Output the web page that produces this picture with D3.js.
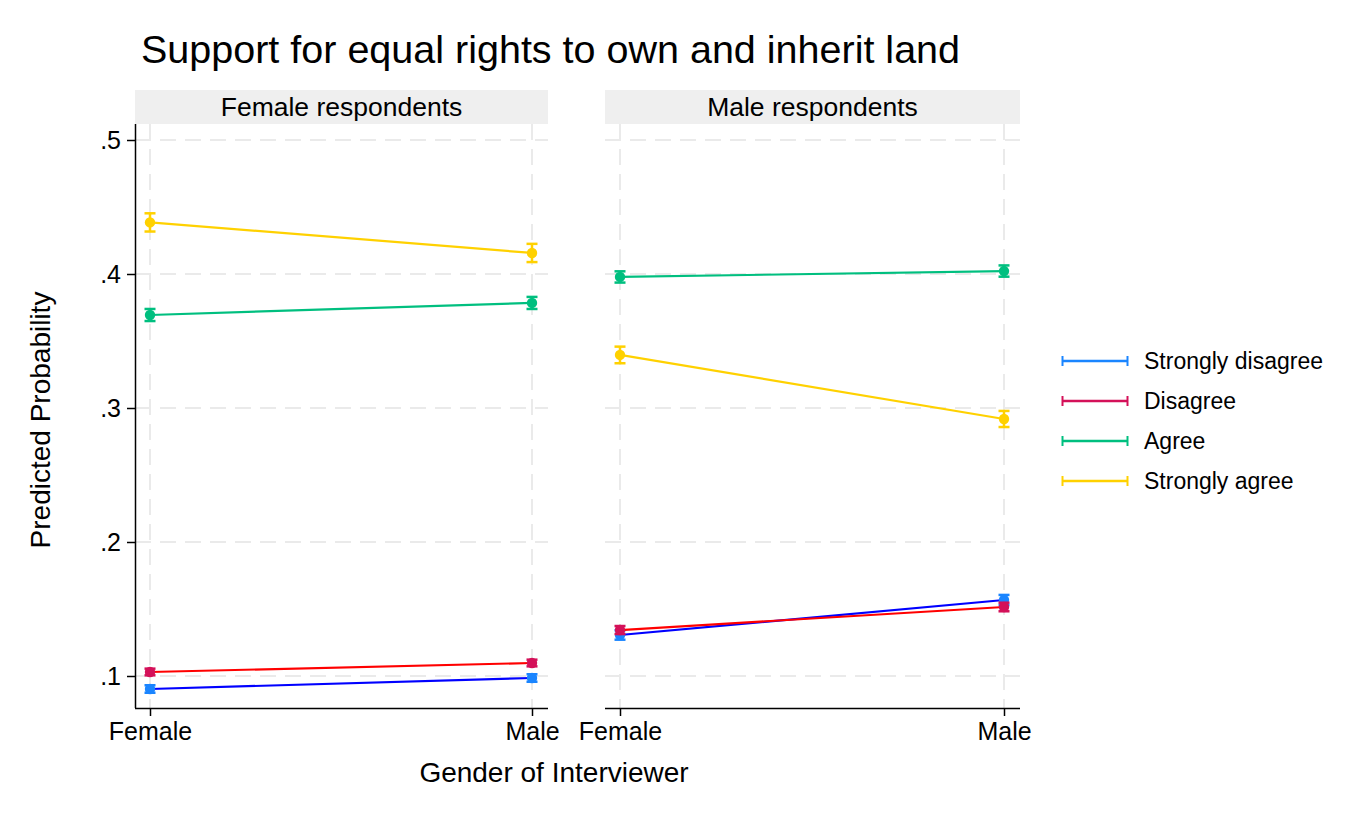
<!DOCTYPE html>
<html>
<head>
<meta charset="utf-8">
<script src="https://cdn.jsdelivr.net/npm/d3@7"></script>
<style>
  body { margin: 0; background: #fff; }
  text { font-family: "Liberation Sans", Arial, Helvetica, sans-serif; fill: #000; }
</style>
</head>
<body>
<svg id="viz" width="1369" height="821"></svg>
<script>
var interviewer = [ 'Female', 'Male' ];
var panels = [ 'Female respondents', 'Male respondents' ];
var outcomes = [ 'Strongly disagree', 'Disagree', 'Agree', 'Strongly agree' ];
var yTicks = [ 0.1, 0.2, 0.3, 0.4, 0.5 ];

// predicted probability, [female interviewer, male interviewer], per panel
var femaleResp = {
	'Strongly disagree': [ 0.0903, 0.0985 ],
	'Disagree': [ 0.1030, 0.1097 ],
	'Agree': [ 0.3694, 0.3784 ],
	'Strongly agree': [ 0.4385, 0.4157 ]
};
var maleResp = {
	'Strongly disagree': [ 0.1306, 0.1567 ],
	'Disagree': [ 0.1343, 0.1515 ],
	'Agree': [ 0.3978, 0.4022 ],
	'Strongly agree': [ 0.3396, 0.2918 ]
};
// half width of the confidence interval
var femaleCI = {
	'Strongly disagree': [ 0.0028, 0.0028 ],
	'Disagree': [ 0.0025, 0.0025 ],
	'Agree': [ 0.0045, 0.0045 ],
	'Strongly agree': [ 0.0068, 0.0068 ]
};
var maleCI = {
	'Strongly disagree': [ 0.0035, 0.0038 ],
	'Disagree': [ 0.0030, 0.0032 ],
	'Agree': [ 0.0042, 0.0042 ],
	'Strongly agree': [ 0.0062, 0.0060 ]
};

var markerColors = {
	'Strongly disagree': '#1a85ff',
	'Disagree': '#d41159',
	'Agree': '#00bf7f',
	'Strongly agree': '#ffd100'
};
var lineColors = {
	'Strongly disagree': '#0000ff',
	'Disagree': '#ff0000',
	'Agree': '#00bf7f',
	'Strongly agree': '#ffd100'
};

var svg = d3.select( '#viz' );

var y = d3.scaleLinear().domain( [ 0.1, 0.5 ] ).range( [ 676, 140 ] );
var plotTop = 124, plotBottom = 708;

var panelBoxes = [ { x0: 135, x1: 548 }, { x0: 605, x1: 1020 } ];
var panelData = [ [ femaleResp, femaleCI ], [ maleResp, maleCI ] ];

svg.append( 'text' )
	.attr( 'x', 141 )
	.attr( 'y', 63 )
	.style( 'font-size', '39.5px' )
	.text( 'Support for equal rights to own and inherit land' );

panels.forEach( function ( name, p ) {
	var box = panelBoxes[p];
	var x = d3.scalePoint().domain( interviewer ).range( [ box.x0 + 15, box.x1 - 16 ] );
	var g = svg.append( 'g' );

	// header strip
	g.append( 'rect' )
		.attr( 'x', box.x0 ).attr( 'y', 90 )
		.attr( 'width', box.x1 - box.x0 ).attr( 'height', 34 )
		.attr( 'fill', '#efefef' );
	g.append( 'text' )
		.attr( 'x', ( box.x0 + box.x1 ) / 2 ).attr( 'y', 116 )
		.attr( 'text-anchor', 'middle' )
		.style( 'font-size', '26.5px' )
		.text( name );

	// grid
	g.selectAll( 'line.hgrid' )
		.data( yTicks )
		.enter().append( 'line' )
		.attr( 'x1', box.x0 ).attr( 'x2', box.x1 )
		.attr( 'y1', function ( d ) { return y( d ); } )
		.attr( 'y2', function ( d ) { return y( d ); } )
		.attr( 'stroke', '#eaeaea' ).attr( 'stroke-width', 2 )
		.attr( 'stroke-dasharray', '16,9' );
	g.selectAll( 'line.vgrid' )
		.data( interviewer )
		.enter().append( 'line' )
		.attr( 'x1', function ( d ) { return x( d ); } )
		.attr( 'x2', function ( d ) { return x( d ); } )
		.attr( 'y1', plotTop ).attr( 'y2', plotBottom )
		.attr( 'stroke', '#eaeaea' ).attr( 'stroke-width', 2 )
		.attr( 'stroke-dasharray', '16,9' );

	// x axis
	var xAxis = g.append( 'g' )
		.attr( 'transform', 'translate(0,' + plotBottom + ')' )
		.call( d3.axisBottom( x ).tickSize( 8 ).tickPadding( 6 ) );
	xAxis.select( '.domain' ).attr( 'd', 'M' + box.x0 + ',0.5H' + box.x1 ).attr( 'stroke-width', 1.5 );
	xAxis.selectAll( '.tick line' ).attr( 'stroke-width', 1.5 );
	xAxis.selectAll( 'text' ).style( 'font-size', '25px' ).attr( 'font-family', null );

	if ( p === 0 ) {
		var yAxis = g.append( 'g' )
			.attr( 'transform', 'translate(' + box.x0 + ',0)' )
			.call( d3.axisLeft( y ).tickValues( yTicks ).tickSize( 8 ).tickPadding( 6 )
				.tickFormat( function ( d ) { return d3.format( '.1f' )( d ).replace( /^0/, '' ); } ) );
		yAxis.select( '.domain' ).attr( 'd', 'M0.5,' + plotTop + 'V' + plotBottom ).attr( 'stroke-width', 1.5 );
		yAxis.selectAll( '.tick line' ).attr( 'stroke-width', 1.5 );
		yAxis.selectAll( 'text' ).style( 'font-size', '25px' ).attr( 'font-family', null );
	}

	var vals = panelData[p][0], ci = panelData[p][1];
	var line = d3.line()
		.x( function ( d, i ) { return x( interviewer[i] ); } )
		.y( function ( d ) { return y( d ); } );

	outcomes.forEach( function ( o ) {
		var og = g.append( 'g' );
		var pts = vals[o].map( function ( v, i ) {
			return { x: x( interviewer[i] ), v: v, lo: v - ci[o][i], hi: v + ci[o][i] };
		} );
		// error bars
		pts.forEach( function ( d ) {
			og.append( 'line' )
				.attr( 'x1', d.x ).attr( 'x2', d.x )
				.attr( 'y1', y( d.lo ) ).attr( 'y2', y( d.hi ) )
				.attr( 'stroke', markerColors[o] ).attr( 'stroke-width', 2.5 );
			[ d.lo, d.hi ].forEach( function ( e ) {
				og.append( 'line' )
					.attr( 'x1', d.x - 5.5 ).attr( 'x2', d.x + 5.5 )
					.attr( 'y1', y( e ) ).attr( 'y2', y( e ) )
					.attr( 'stroke', markerColors[o] ).attr( 'stroke-width', 2.5 );
			} );
		} );
		og.append( 'path' )
			.datum( vals[o] )
			.attr( 'd', line )
			.attr( 'fill', 'none' )
			.attr( 'stroke', lineColors[o] ).attr( 'stroke-width', 2.2 );
		og.selectAll( 'circle' )
			.data( pts )
			.enter().append( 'circle' )
			.attr( 'cx', function ( d ) { return d.x; } )
			.attr( 'cy', function ( d ) { return y( d.v ); } )
			.attr( 'r', 5.2 )
			.attr( 'fill', markerColors[o] );
	} );
} );

// axis titles
svg.append( 'text' )
	.attr( 'transform', 'translate(50,420) rotate(-90)' )
	.attr( 'text-anchor', 'middle' )
	.style( 'font-size', '28px' )
	.text( 'Predicted Probability' );
svg.append( 'text' )
	.attr( 'x', 554 ).attr( 'y', 782 )
	.attr( 'text-anchor', 'middle' )
	.style( 'font-size', '28px' )
	.text( 'Gender of Interviewer' );

// legend
var legend = svg.append( 'g' ).selectAll( 'g' )
	.data( outcomes )
	.enter().append( 'g' )
	.attr( 'transform', function ( d, i ) { return 'translate(1062,' + ( 361 + i * 40 ) + ')'; } );
legend.append( 'line' )
	.attr( 'x1', 0 ).attr( 'x2', 66 )
	.attr( 'stroke', function ( d ) { return markerColors[d]; } ).attr( 'stroke-width', 2.5 );
legend.append( 'line' ).attr( 'x1', 0.5 ).attr( 'x2', 0.5 ).attr( 'y1', -5 ).attr( 'y2', 5 )
	.attr( 'stroke', function ( d ) { return markerColors[d]; } ).attr( 'stroke-width', 2 );
legend.append( 'line' ).attr( 'x1', 65.5 ).attr( 'x2', 65.5 ).attr( 'y1', -5 ).attr( 'y2', 5 )
	.attr( 'stroke', function ( d ) { return markerColors[d]; } ).attr( 'stroke-width', 2 );
legend.append( 'text' )
	.attr( 'x', 82 ).attr( 'y', 8 )
	.style( 'font-size', '23px' )
	.text( function ( d ) { return d; } );
</script>
</body>
</html>
